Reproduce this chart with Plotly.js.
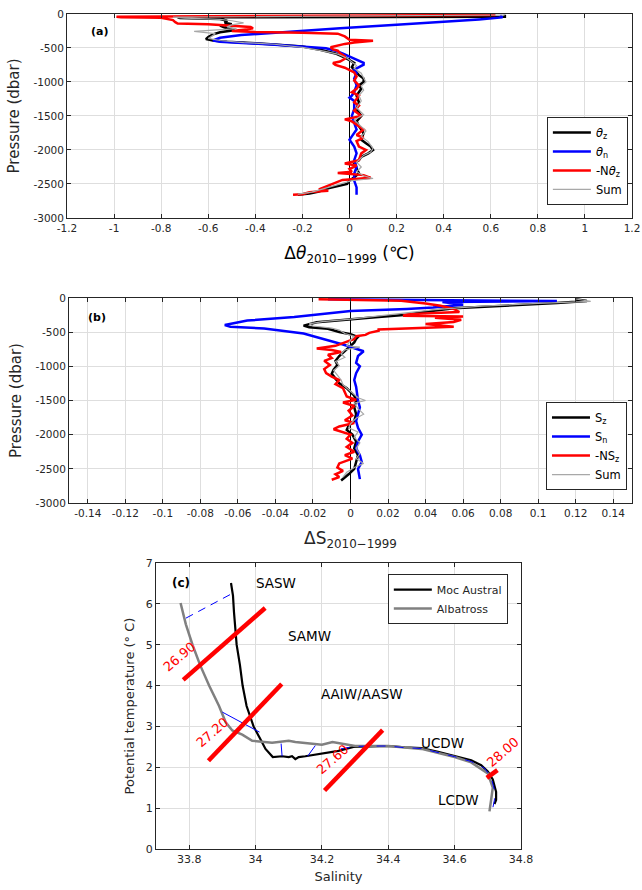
<!DOCTYPE html>
<html><head><meta charset="utf-8">
<script src="https://cdn.plot.ly/plotly-3.0.1.min.js"></script>
<style>html,body{margin:0;padding:0;background:#fff}</style>
</head><body><div id="chart" style="width:642px;height:890px"></div>
<script>
// ---------- Panel (a): potential temperature change ----------
const thzP = [-10,-40,-50,-60,-75,-100,-130,-150,-170,-200,-220,-240,-270,-300,-340,-370,-390,-410,-440,-480,-530,-580,-640,-680,-720,-780,-850,-900,-950,-1000,-1050,-1100,-1200,-1300,-1400,-1500,-1580,-1650,-1750,-1850,-1900,-1950,-2000,-2050,-2100,-2150,-2200,-2280,-2340,-2400,-2450,-2500,-2540,-2570,-2610,-2640,-2660];
const thzV = [0.66,0.66,-0.73,-0.72,-0.55,-0.52,-0.53,-0.5,-0.55,-0.53,-0.5,-0.49,-0.55,-0.58,-0.6,-0.61,-0.58,-0.52,-0.35,-0.2,-0.12,-0.06,-0.02,0.0,0.02,0.01,0.03,0.04,0.06,0.06,0.04,0.05,0.03,0.04,0.03,0.05,0.03,0.04,0.06,0.05,0.07,0.09,0.1,0.08,0.05,0.04,0.02,0.03,0.04,0.02,0.0,-0.01,-0.06,-0.1,-0.13,-0.17,-0.22];
const thnP = [-20,-50,-80,-110,-160,-211,-250,-310,-350,-390,-410,-431,-455,-505,-540,-580,-630,-690,-720,-745,-780,-820,-870,-950,-1050,-1150,-1200,-1230,-1280,-1400,-1500,-1600,-1700,-1800,-1850,-1950,-2050,-2150,-2250,-2350,-2450,-2550,-2660];
const thnV = [0.64,0.65,0.55,0.43,0.2,-0.04,-0.2,-0.46,-0.55,-0.58,-0.55,-0.44,-0.3,-0.1,-0.06,-0.03,0.0,0.04,0.06,0.06,0.04,0.02,0.03,0.02,0.03,0.02,0.01,0.0,0.02,0.02,0.01,0.02,0.03,0.01,0.0,0.02,0.03,0.02,0.03,0.02,0.02,0.03,0.03];
const thrP = [-15,-40,-50,-55,-70,-90,-120,-140,-150,-175,-190,-210,-230,-250,-265,-275,-290,-330,-360,-380,-395,-410,-420,-440,-460,-490,-520,-540,-580,-620,-660,-700,-720,-750,-790,-820,-860,-920,-980,-1050,-1100,-1150,-1200,-1300,-1350,-1420,-1500,-1550,-1580,-1650,-1700,-1780,-1820,-1870,-1950,-2000,-2050,-2150,-2200,-2230,-2280,-2320,-2340,-2370,-2410,-2440,-2500,-2540,-2580,-2600,-2620,-2650,-2660];
const thrV = [0.62,-0.99,-0.97,-0.8,-0.78,-0.75,-0.74,-0.73,-0.6,-0.5,-0.42,-0.41,-0.44,-0.5,-0.4,-0.2,-0.05,-0.02,-0.01,0.0,0.1,0.03,0.02,-0.02,-0.05,-0.08,-0.07,-0.05,-0.04,-0.02,-0.02,-0.04,-0.07,-0.06,-0.02,0.0,0.02,0.03,0.02,0.04,0.03,0.01,0.04,0.02,0.04,0.02,0.05,-0.02,0.01,0.04,0.06,0.03,0.06,0.03,0.04,0.07,0.05,0.04,-0.02,0.03,0.0,0.01,-0.05,0.06,0.09,-0.03,-0.07,-0.1,-0.13,-0.09,-0.17,-0.2,-0.24];
const thsP = [-15,-45,-60,-80,-100,-130,-160,-190,-215,-240,-255,-290,-330,-360,-390,-420,-445,-490,-540,-590,-650,-700,-760,-800,-870,-940,-1000,-1060,-1120,-1200,-1280,-1380,-1480,-1560,-1650,-1720,-1800,-1880,-1980,-2030,-2080,-2180,-2250,-2320,-2380,-2420,-2450,-2490,-2540,-2580,-2620,-2650];
const thsV = [0.66,-0.75,-0.7,-0.55,-0.5,-0.45,-0.5,-0.52,-0.48,-0.62,-0.66,-0.57,-0.59,-0.6,-0.55,-0.45,-0.32,-0.2,-0.12,-0.05,-0.01,0.01,0.03,0.02,0.05,0.06,0.07,0.05,0.06,0.04,0.05,0.03,0.06,0.02,0.05,0.07,0.05,0.08,0.1,0.09,0.06,0.03,0.05,0.03,0.06,0.1,0.01,-0.03,-0.08,-0.12,-0.16,-0.22];

// ---------- Panel (b): salinity change ----------
const szP = [-20,-44,-75,-110,-150,-200,-244,-290,-320,-355,-405,-430,-450,-497,-530,-570,-600,-650,-700,-780,-850,-920,-980,-1050,-1110,-1180,-1250,-1320,-1370,-1430,-1500,-1600,-1700,-1800,-1870,-1930,-2000,-2100,-2200,-2300,-2400,-2500,-2580,-2630,-2670];
const szV = [0.12,0.126,0.11,0.08,0.055,0.04,0.03,0.01,-0.005,-0.018,-0.025,-0.022,-0.012,-0.006,0.0,0.004,0.003,0.002,0.0,-0.003,-0.006,-0.008,-0.007,-0.009,-0.01,-0.008,-0.006,-0.002,0.0,0.002,0.003,0.002,0.003,0.002,-0.001,-0.002,0.001,0.003,0.002,0.004,0.003,0.002,-0.001,-0.003,-0.005];
const snP = [-20,-25,-45,-60,-100,-140,-160,-190,-280,-330,-395,-420,-445,-520,-680,-780,-850,-950,-1000,-1100,-1200,-1300,-1500,-1600,-1800,-1900,-2000,-2100,-2200,-2300,-2400,-2500,-2650];
const snV = [-0.012,0.014,0.11,0.049,0.06,0.044,0.03,0.0,-0.03,-0.055,-0.067,-0.064,-0.046,-0.025,-0.004,0.007,0.004,0.003,0.005,0.003,0.002,0.003,0.004,0.005,0.003,0.004,0.006,0.004,0.003,0.005,0.006,0.004,0.005];
const srP = [-20,-30,-40,-80,-113,-160,-205,-220,-240,-260,-270,-290,-320,-350,-380,-420,-440,-460,-479,-510,-540,-560,-600,-650,-700,-740,-760,-790,-830,-880,-920,-980,-1040,-1100,-1150,-1200,-1260,-1320,-1380,-1440,-1490,-1530,-1580,-1650,-1720,-1790,-1830,-1880,-1920,-1960,-2000,-2060,-2120,-2180,-2250,-2300,-2350,-2420,-2480,-2530,-2580,-2620,-2660];
const srV = [-0.017,0.0,0.027,0.04,0.048,0.055,0.058,0.045,0.03,0.028,0.06,0.045,0.059,0.055,0.04,0.055,0.03,0.015,0.015,0.01,0.008,0.003,0.002,-0.003,-0.008,-0.018,-0.01,-0.005,-0.012,-0.01,-0.014,-0.011,-0.014,-0.013,-0.01,-0.006,-0.008,-0.004,-0.003,-0.002,0.003,-0.004,0.002,-0.001,0.001,-0.003,0.002,-0.006,-0.009,-0.004,0.0,-0.002,0.001,-0.002,0.002,-0.003,0.001,-0.006,-0.007,-0.004,-0.008,-0.006,-0.01];
const ssP = [-15,-50,-80,-120,-170,-220,-270,-310,-345,-380,-410,-440,-470,-520,-560,-620,-700,-720,-760,-820,-870,-930,-990,-1060,-1130,-1200,-1270,-1340,-1410,-1460,-1500,-1540,-1620,-1700,-1760,-1840,-1900,-1960,-2040,-2120,-2200,-2280,-2350,-2420,-2480,-2550,-2620];
const ssV = [0.12,0.128,0.1,0.07,0.045,0.03,0.015,0.0,-0.015,-0.022,-0.02,-0.01,-0.006,-0.003,0.002,0.0,-0.002,0.005,-0.003,-0.005,-0.003,-0.008,-0.006,-0.009,-0.007,-0.005,-0.004,-0.001,0.002,0.004,0.008,0.002,0.004,0.007,0.003,0.0,-0.001,0.004,0.002,0.005,0.003,0.005,0.003,0.007,0.002,-0.002,-0.004];

// ---------- Panel (c): theta-S diagram ----------
const mocS = [33.926,33.932,33.935,33.943,33.953,33.961,33.973,33.994,34.014,34.03,34.052,34.08,34.1,34.11,34.12,34.13,34.15,34.2,34.25,34.295,34.35,34.4,34.45,34.5,34.55,34.6,34.65,34.68,34.7,34.715,34.725,34.725,34.72];
const mocT = [6.51,6.2,5.8,5.0,4.5,4.0,3.5,3.0,2.7,2.45,2.25,2.27,2.25,2.27,2.2,2.25,2.27,2.33,2.4,2.5,2.52,2.52,2.49,2.47,2.38,2.28,2.17,2.05,1.9,1.7,1.4,1.2,1.1];
const albS = [33.774,33.79,33.81,33.833,33.86,33.89,33.91,33.93,33.96,33.99,34.05,34.1,34.12,34.2,34.232,34.3,34.4,34.5,34.6,34.65,34.7,34.715,34.71,34.705];
const albT = [6.02,5.5,5.0,4.5,4.0,3.5,3.1,2.9,2.8,2.65,2.6,2.65,2.62,2.55,2.62,2.52,2.52,2.45,2.25,2.12,1.85,1.5,1.2,0.92];
const topLinkS = [33.79,33.931];
const topLinkT = [5.65,6.26];
const linkS = [33.9,34.012,null,34.077,34.08,null,34.18,34.157];
const linkT = [3.35,2.86,null,2.58,2.27,null,2.53,2.27];
const deepS = [34.257,34.3,34.35,34.4,34.45,34.5,34.55,34.6,34.65,34.69,34.71,34.72,34.72,34.715];
const deepT = [2.45,2.51,2.52,2.52,2.48,2.46,2.36,2.26,2.14,1.98,1.75,1.45,1.2,1.0];
const isoLabels = ['26.90','27.20','27.60','28.00'];
const isoS0 = [33.782,33.858,34.208,34.697];
const isoT0 = [4.14,2.16,1.43,1.74];
const isoS1 = [34.029,34.079,34.383,34.729];
const isoT1 = [5.9,4.04,2.91,1.93];
const isoLabS = [33.79,33.888,34.25,34.762];
const isoLabT = [4.53,2.67,2.02,2.2];
const waterMass = ['SASW','SAMW','AAIW/AASW','UCDW','LCDW'];
const wmS = [34.062,34.164,34.32,34.564,34.612];
const wmT = [6.5,5.21,3.79,2.6,1.2];

// ---------- tick labels ----------
const xTickA = [-1.2,-1,-0.8,-0.6,-0.4,-0.2,0,0.2,0.4,0.6,0.8,1,1.2];
const xTickAText = ['-1.2','-1','-0.8','-0.6','-0.4','-0.2','0','0.2','0.4','0.6','0.8','1','1.2'];
const yTickP = [0,-500,-1000,-1500,-2000,-2500,-3000];
const yTickPText = ['0','-500','-1000','-1500','-2000','-2500','-3000'];
const xTickB = [-0.14,-0.12,-0.1,-0.08,-0.06,-0.04,-0.02,0,0.02,0.04,0.06,0.08,0.1,0.12,0.14];
const xTickBText = ['-0.14','-0.12','-0.1','-0.08','-0.06','-0.04','-0.02','0','0.02','0.04','0.06','0.08','0.1','0.12','0.14'];
const xTickC = [33.8,34,34.2,34.4,34.6,34.8];
const xTickCText = ['33.8','34','34.2','34.4','34.6','34.8'];
const yTickC = [0,1,2,3,4,5,6,7];

const FONT = 'DejaVu Sans, sans-serif';
const AX = '#262626';
const BLUE = '#0000ff', RED = '#ff0000';

function ln(x, y, name, color, width, xa, ya, leg, extra) {
  return Object.assign({type:'scatter', mode:'lines', x:x, y:y, name:name,
    line:{color:color, width:width}, xaxis:xa, yaxis:ya, legend:leg, hoverinfo:'skip'}, extra||{});
}

const traces = [
  ln(thzV, thzP, '<i>θ</i><sub>z</sub>', '#000000', 2.5, 'x', 'y', 'legend'),
  ln(thnV, thnP, '<i>θ</i><sub>n</sub>', BLUE, 2.5, 'x', 'y', 'legend'),
  ln(thrV, thrP, '-N<i>θ</i><sub>z</sub>', RED, 2.5, 'x', 'y', 'legend'),
  ln(thsV, thsP, 'Sum', '#a8a8a8', 1.2, 'x', 'y', 'legend'),
  ln(szV, szP, 'S<sub>z</sub>', '#000000', 2.5, 'x2', 'y2', 'legend2'),
  ln(snV, snP, 'S<sub>n</sub>', BLUE, 2.5, 'x2', 'y2', 'legend2'),
  ln(srV, srP, '-NS<sub>z</sub>', RED, 2.5, 'x2', 'y2', 'legend2'),
  ln(ssV, ssP, 'Sum', '#a8a8a8', 1.2, 'x2', 'y2', 'legend2'),
  ln(mocS, mocT, 'Moc Austral', '#000000', 2.2, 'x3', 'y3', 'legend3'),
  ln(albS, albT, 'Albatross', '#808080', 2.5, 'x3', 'y3', 'legend3'),
  ln(topLinkS, topLinkT, 'link0', BLUE, 1, 'x3', 'y3', 'legend3', {showlegend:false, line:{color:BLUE, width:1, dash:'8px,6px'}}),
  ln(linkS, linkT, 'links', BLUE, 1, 'x3', 'y3', 'legend3', {showlegend:false, connectgaps:false}),
  ln(deepS, deepT, 'deep', BLUE, 1, 'x3', 'y3', 'legend3', {showlegend:false, line:{color:BLUE, width:1, dash:'dash'}})
];
for (let i = 0; i < isoLabels.length; i++) {
  traces.push(ln([isoS0[i], isoS1[i]], [isoT0[i], isoT1[i]], isoLabels[i], RED, 4.5, 'x3', 'y3', 'legend3', {showlegend:false}));
}

function axis(extra) {
  return Object.assign({
    showline:true, mirror:'ticks', linecolor:AX, linewidth:1,
    ticks:'inside', ticklen:4, tickcolor:AX, tickwidth:1,
    showgrid:true, gridcolor:'#dedede', gridwidth:1, zeroline:false,
    tickfont:{family:FONT, size:10.5, color:AX}, tickmode:'array'
  }, extra);
}

const annotations = [
  {xref:'x', yref:'y', x:-1.06, y:-260, text:'<b>(a)</b>', showarrow:false, font:{family:FONT, size:11, color:'#000'}},
  {xref:'x2', yref:'y2', x:-0.135, y:-280, text:'<b>(b)</b>', showarrow:false, font:{family:FONT, size:11, color:'#000'}},
  {xref:'x3', yref:'y3', x:33.775, y:6.5, text:'<b>(c)</b>', showarrow:false, font:{family:FONT, size:12, color:'#000'}}
];
for (let i = 0; i < waterMass.length; i++) {
  annotations.push({xref:'x3', yref:'y3', x:wmS[i], y:wmT[i], text:waterMass[i], showarrow:false,
    font:{family:FONT, size:13.5, color:'#000'}});
}
for (let i = 0; i < isoLabels.length; i++) {
  annotations.push({xref:'x3', yref:'y3', x:isoLabS[i], y:isoLabT[i], text:isoLabels[i], showarrow:false,
    textangle:-41, xshift:-6, yshift:7, font:{family:FONT, size:13, color:RED}});
}

const legendBase = {bgcolor:'#ffffff', bordercolor:AX, borderwidth:1,
  font:{family:FONT, size:11.5, color:'#000'}, tracegroupgap:0, xanchor:'right', itemwidth:38};

const layout = {
  width:642, height:890, paper_bgcolor:'#fff', plot_bgcolor:'#fff',
  margin:{l:0, r:0, t:0, b:0}, showlegend:true,
  xaxis: axis({domain:[0.1044,0.9844], anchor:'y', range:[-1.2,1.2], tickvals:xTickA, ticktext:xTickAText,
    zeroline:true, zerolinecolor:'#000', zerolinewidth:1.2,
    title:{text:'Δ<i>θ</i><sub>2010−1999</sub> (℃)', font:{family:FONT, size:17, color:'#000'}, standoff:14}}),
  yaxis: axis({domain:[0.7551,0.9843], anchor:'x', range:[-3000,0], tickvals:yTickP, ticktext:yTickPText,
    title:{text:'Pressure (dbar)', font:{family:FONT, size:15, color:AX}, standoff:10}}),
  xaxis2: axis({domain:[0.1075,0.9844], anchor:'y2', range:[-0.15,0.15], tickvals:xTickB, ticktext:xTickBText,
    zeroline:true, zerolinecolor:'#000', zerolinewidth:1.2,
    title:{text:'ΔS<sub>2010−1999</sub>', font:{family:FONT, size:17, color:AX}, standoff:14}}),
  yaxis2: axis({domain:[0.4348,0.6652], anchor:'x2', range:[-3000,0], tickvals:yTickP, ticktext:yTickPText,
    title:{text:'Pressure (dbar)', font:{family:FONT, size:15, color:AX}, standoff:10}}),
  xaxis3: axis({domain:[0.243,0.8115], anchor:'y3', range:[33.7,34.8], tickvals:xTickC, ticktext:xTickCText,
    tickfont:{family:FONT, size:11, color:AX},
    title:{text:'Salinity', font:{family:FONT, size:13, color:AX}, standoff:6}}),
  yaxis3: axis({domain:[0.0461,0.3674], anchor:'x3', range:[0,7], tickvals:yTickC,
    tickfont:{family:FONT, size:11, color:AX},
    title:{text:'Potential temperature (° C)', font:{family:FONT, size:13, color:AX}, standoff:8}}),
  legend: Object.assign({}, legendBase, {x:0.978, y:0.7697, yanchor:'bottom'}),
  legend2: Object.assign({}, legendBase, {x:0.9766, y:0.4494, yanchor:'bottom'}),
  legend3: Object.assign({}, legendBase, {x:0.791, y:0.355, yanchor:'top', font:{family:FONT, size:11, color:AX}}),
  annotations: annotations
};

Plotly.newPlot('chart', traces, layout, {displayModeBar:false, staticPlot:true});
</script></body></html>
